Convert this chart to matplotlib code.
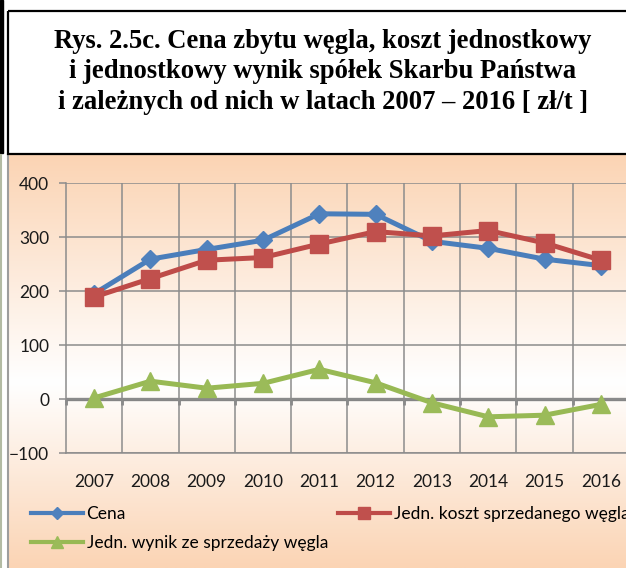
import numpy as np
import matplotlib.pyplot as plt
from matplotlib.lines import Line2D
from matplotlib.patches import Rectangle

# dane [zł/t]
lata = ["2007", "2008", "2009", "2010", "2011", "2012", "2013", "2014", "2015", "2016"]
cena = [195, 259, 277, 294, 343, 342, 292, 279, 259, 247]
koszt = [189, 223, 257, 262, 287, 310, 302, 312, 289, 257]
wynik = [2, 33, 20, 29, 55, 30, -7, -33, -30, -10]

W, H = 626, 568
fig = plt.figure(figsize=(W / 100, H / 100), dpi=100)
fig.patch.set_facecolor("white")

# tło i ramki rysowane w pikselach
bg = fig.add_axes([0, 0, 1, 1], zorder=-10)
bg.set_xlim(0, W)
bg.set_ylim(H, 0)
bg.axis("off")

# gradient brzoskwinia - biały - brzoskwinia
peach = np.array([251, 212, 180]) / 255
white = np.array([1.0, 1.0, 1.0])
t = np.linspace(0, 1, 400)
stops_t = [0.0, 0.55, 1.0]
cols = np.stack([np.interp(t, stops_t, [peach[i], white[i], peach[i]]) for i in range(3)], axis=1)
grad = cols[:, None, :]
bg.imshow(grad, extent=[9, W, H, 155], aspect="auto", interpolation="bilinear", zorder=0)

bg.add_patch(Rectangle((0, 0), 3, 153, color="black", zorder=2))
bg.plot([1, 1], [155, H], color="#b3bba3", lw=1.5, zorder=2)
bg.plot([8, 8], [155, H], color="#9d9d9d", lw=1.5, zorder=2)
bg.add_patch(Rectangle((7.5, 11), 700, 143, fill=False, edgecolor="black", lw=1.6, zorder=3))

# tytuł
title_lines = [
    "Rys. 2.5c. Cena zbytu węgla, koszt jednostkowy",
    "i jednostkowy wynik spółek Skarbu Państwa",
    "i zależnych od nich w latach 2007 \u2013 2016 [ zł/t ]",
]
for y, line in zip([48, 78.5, 109], title_lines):
    bg.text(323, y, line, ha="center", va="baseline", fontsize=19.2,
            fontweight="bold", family="Liberation Serif", color="black")

# wykres
ax_l, ax_r, ax_t, ax_b = 66, 629, 183, 453
ax = fig.add_axes([ax_l / W, 1 - ax_b / H, (ax_r - ax_l) / W, (ax_b - ax_t) / H])
ax.set_facecolor("none")

x = np.arange(len(lata))
grid_c = "#8c8c8c"

ax.set_xlim(-0.5, len(lata) - 0.5)
ax.set_ylim(-100, 400)
ax.set_yticks(np.arange(-100, 401, 100))
ax.set_xticks(x)
ax.set_xticklabels(lata)
ax.set_xticks(np.arange(0.5, len(lata) - 0.5, 1), minor=True)
ax.grid(True, axis="y", which="major", color=grid_c, lw=1.1, zorder=0)
ax.grid(True, axis="x", which="minor", color=grid_c, lw=1.1, zorder=0)
ax.tick_params(axis="x", which="both", length=0, pad=15)
ax.tick_params(axis="y", length=5, width=1.1, color=grid_c, pad=7)
for lab in ax.get_xticklabels() + ax.get_yticklabels():
    lab.set_family("Lato")
    lab.set_fontsize(12.5)
    lab.set_color("#1a1a1a")

for s in ["top", "right"]:
    ax.spines[s].set_visible(False)
for s in ["left", "bottom"]:
    ax.spines[s].set_color(grid_c)
    ax.spines[s].set_linewidth(1.1)

# oś zero z kreskami podziału
ax.axhline(0, color="#858585", lw=2.4, zorder=1)
ax.plot(np.arange(-0.5, len(lata), 1), np.zeros(len(lata) + 1), ls="none",
        marker=3, markersize=4, mew=2, color="#858585", zorder=1, clip_on=False)

ax.plot(x, cena, color="#4a7ebb", lw=3.6, marker="D", markersize=9.5,
        mfc="#4f81bd", mec="#4f81bd", zorder=3, clip_on=False)
ax.plot(x, koszt, color="#be4b48", lw=3.6, marker="s", markersize=12.5,
        mfc="#c0504d", mec="#c0504d", zorder=4, clip_on=False)
ax.plot(x, wynik, color="#98b954", lw=3.6, marker="^", markersize=12.5,
        mfc="#9bbb59", mec="#9bbb59", zorder=5, clip_on=False)

# legenda
handles = [
    Line2D([], [], color="#4a7ebb", lw=3, marker="D", markersize=6, mfc="#4f81bd", mec="#4f81bd"),
    Line2D([], [], color="#98b954", lw=3, marker="^", markersize=8, mfc="#9bbb59", mec="#9bbb59"),
    Line2D([], [], color="#be4b48", lw=3, marker="s", markersize=8, mfc="#c0504d", mec="#c0504d"),
]
labels = ["Cena", "Jedn. wynik ze sprzedaży węgla", "Jedn. koszt sprzedanego węgla"]
fig.legend(handles, labels, ncol=2, loc="upper left", bbox_to_anchor=(31 / W, 1 - 506 / H),
           frameon=False, prop={"family": "Lato", "size": 12.5}, handlelength=3.0,
           handletextpad=0.2, columnspacing=0.6, labelspacing=0.75, borderpad=0,
           borderaxespad=0, numpoints=1)

fig.savefig("out.png", dpi=100)
